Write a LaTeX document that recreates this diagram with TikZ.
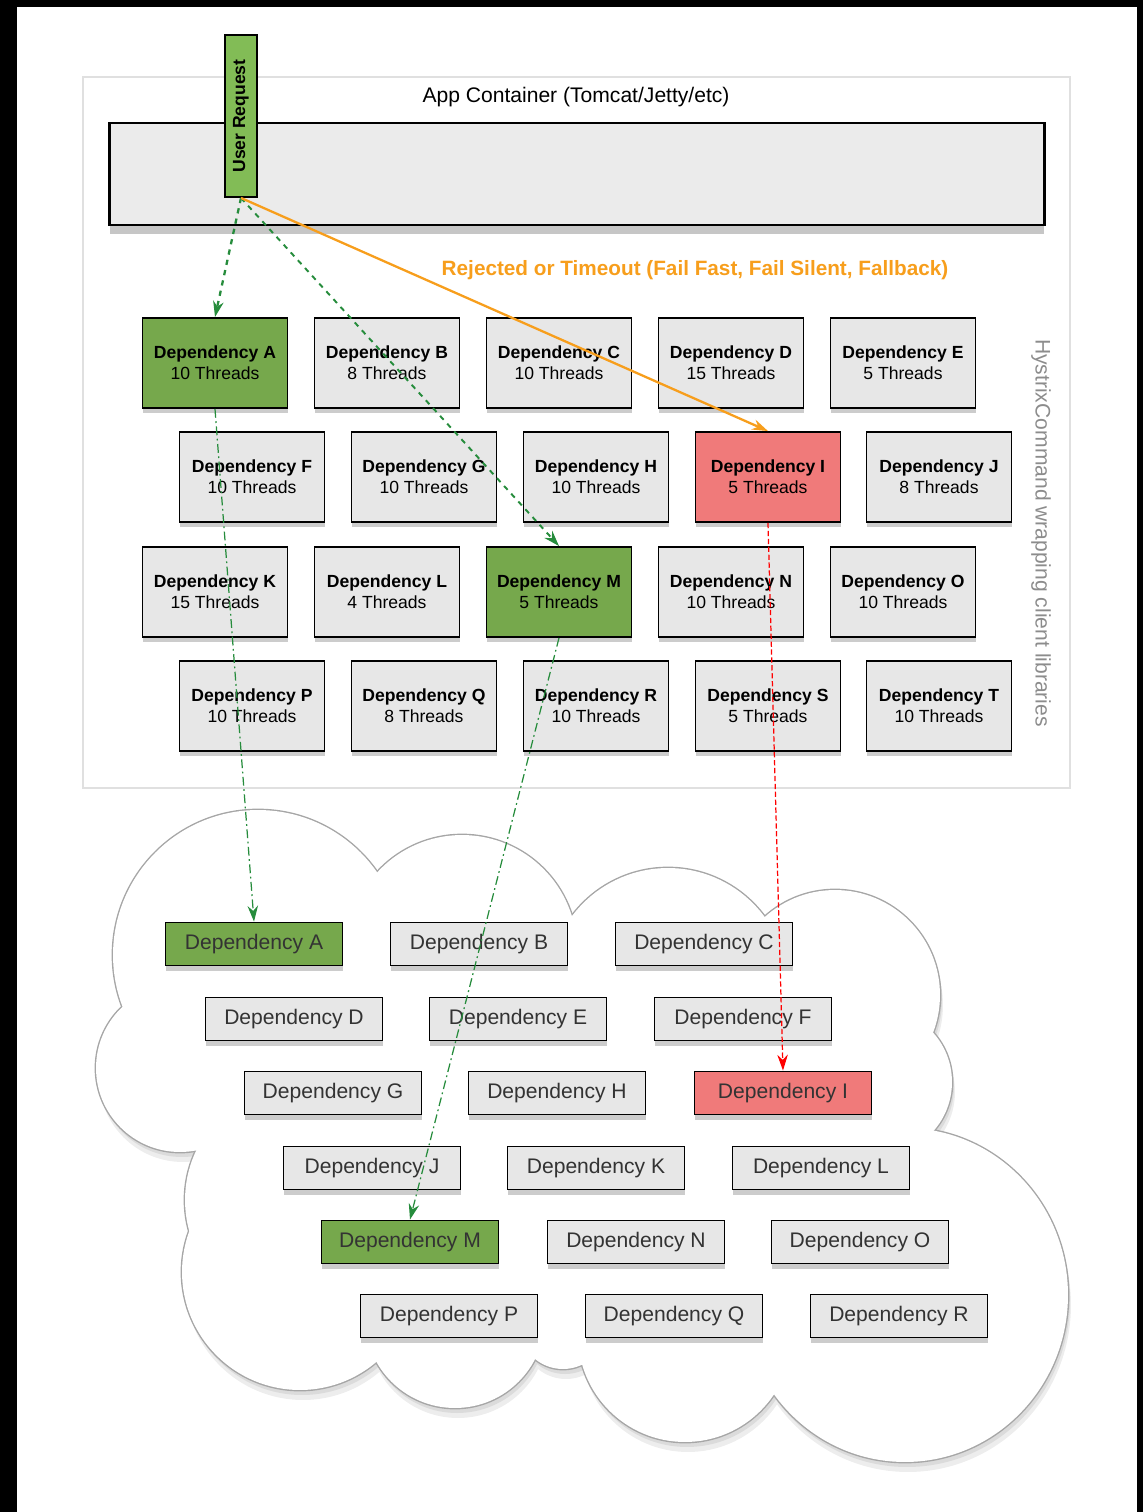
\documentclass[tikz,border=0pt]{standalone}
\usepackage{fontspec}
\setmainfont{Liberation Sans}
\usepackage{tikz}
\usetikzlibrary{arrows.meta, shadows}

\definecolor{boxgray}{RGB}{231,231,231}
\definecolor{okgreen}{RGB}{118,168,76}
\definecolor{reqgreen}{RGB}{130,188,86}
\definecolor{failred}{RGB}{240,122,122}
\definecolor{linegreen}{RGB}{38,140,60}
\definecolor{timeout}{RGB}{247,158,28}

% lobes of the network cloud: centre x / centre y / x radius / y radius (cm)
\newcommand{\cloudlobes}[1]{%
    \foreach \cx/\cy/\rx/\ry in {258/955/2.9/2.9, 462/950/2.3/2.3, 668/988/2.4/2.4, 835/995/2.1/2.1,
        878/1082/1.48/1.48, 905/1295/3.26/3.34, 685/1335/2.14/2.14, 563/1325/0.88/0.88,
        455/1318/1.8/1.8, 300/1272/2.36/2.36, 300/1200/2.3/2.3, 180/1068/1.68/1.68}
        {#1 (\cx,\cy) ellipse[x radius=\rx cm, y radius=\ry cm];}}

\begin{document}
\begin{tikzpicture}[x=0.02cm, y=-0.02cm, >={Stealth[length=9pt, width=6pt]},
    pool/.style={draw, line width=1.1pt, fill=boxgray, minimum width=2.9cm, minimum height=1.8cm, align=center,
        font=\fontsize{10}{12}\selectfont, drop shadow={shadow xshift=0.5pt, shadow yshift=-3pt, opacity=0.4}},
    lib/.style={draw, line width=1.1pt, fill=boxgray, minimum width=3.54cm, minimum height=0.86cm, text=black!80,
        font=\fontsize{12}{14}\selectfont, drop shadow={shadow xshift=0.5pt, shadow yshift=-3pt, opacity=0.4}},
    ok/.style={fill=okgreen},
    bad/.style={fill=failred},
    pass/.style={->, linegreen, line width=0.7pt, dash pattern=on 5pt off 2pt on 1pt off 2pt}]

    \useasboundingbox (0,0) rectangle (1143,1512);
    % black edges of the screenshot
    \fill[black] (0,0) rectangle (1143,7);
    \fill[black] (0,0) rectangle (17,1512);
    \fill[black] (1137,0) rectangle (1143,1512);

    % app container
    \node[draw=black!12, line width=0.8pt, minimum width=19.74cm, minimum height=14.22cm] (frame) at (576.5,432.5) {};
    \node[font=\fontsize{12}{14}\selectfont] (apptitle) at (576,97) {App Container (Tomcat/Jetty/etc)};
    \node[draw, line width=1.3pt, fill=black!8, minimum width=18.7cm, minimum height=2.04cm,
        drop shadow={shadow xshift=0pt, shadow yshift=-5pt, opacity=0.45}] (app) at (577,174) {};
    \node[rotate=-90, text=black!45, font=\fontsize{12}{14}\selectfont] (wrap) at (1041,533) {HystrixCommand wrapping client libraries};
    \node[text=timeout, font=\bfseries\fontsize{11.8}{14}\selectfont] (reject) at (695,270) {Rejected or Timeout (Fail Fast, Fail Silent, Fallback)};

    % network cloud
    \cloudlobes{\fill[black!7, shift={(3,10)}]}
    \cloudlobes{\fill[black!14, shift={(2,5)}]}
    \cloudlobes{\draw[black!35, line width=1.6pt]}
    \cloudlobes{\fill[white]}
    \fill[white] (210,960) -- (900,960) -- (900,1300) -- (230,1300) -- cycle;

    % thread pools
    \node[pool, ok] (pA) at (215,363) {\textbf{Dependency A}\\10 Threads};
    \node[pool] (pB) at (387,363) {\textbf{Dependency B}\\8 Threads};
    \node[pool] (pC) at (559,363) {\textbf{Dependency C}\\10 Threads};
    \node[pool] (pD) at (731,363) {\textbf{Dependency D}\\15 Threads};
    \node[pool] (pE) at (903,363) {\textbf{Dependency E}\\5 Threads};

    \node[pool] (pF) at (252,477) {\textbf{Dependency F}\\10 Threads};
    \node[pool] (pG) at (424,477) {\textbf{Dependency G}\\10 Threads};
    \node[pool] (pH) at (596,477) {\textbf{Dependency H}\\10 Threads};
    \node[pool, bad] (pI) at (768,477) {\textbf{Dependency I}\\5 Threads};
    \node[pool] (pJ) at (939,477) {\textbf{Dependency J}\\8 Threads};

    \node[pool] (pK) at (215,592) {\textbf{Dependency K}\\15 Threads};
    \node[pool] (pL) at (387,592) {\textbf{Dependency L}\\4 Threads};
    \node[pool, ok] (pM) at (559,592) {\textbf{Dependency M}\\5 Threads};
    \node[pool] (pN) at (731,592) {\textbf{Dependency N}\\10 Threads};
    \node[pool] (pO) at (903,592) {\textbf{Dependency O}\\10 Threads};

    \node[pool] (pP) at (252,706) {\textbf{Dependency P}\\10 Threads};
    \node[pool] (pQ) at (424,706) {\textbf{Dependency Q}\\8 Threads};
    \node[pool] (pR) at (596,706) {\textbf{Dependency R}\\10 Threads};
    \node[pool] (pS) at (768,706) {\textbf{Dependency S}\\5 Threads};
    \node[pool] (pT) at (939,706) {\textbf{Dependency T}\\10 Threads};

    % remote dependencies
    \node[lib, ok] (cA) at (254,944) {Dependency A};
    \node[lib] (cB) at (479,944) {Dependency B};
    \node[lib] (cC) at (704,944) {Dependency C};
    \node[lib] (cD) at (294,1019) {Dependency D};
    \node[lib] (cE) at (518,1019) {Dependency E};
    \node[lib] (cF) at (743,1019) {Dependency F};
    \node[lib] (cG) at (333,1093) {Dependency G};
    \node[lib] (cH) at (557,1093) {Dependency H};
    \node[lib, bad] (cI) at (783,1093) {Dependency I};
    \node[lib] (cJ) at (372,1168) {Dependency J};
    \node[lib] (cK) at (596,1168) {Dependency K};
    \node[lib] (cL) at (821,1168) {Dependency L};
    \node[lib, ok] (cM) at (410,1242) {Dependency M};
    \node[lib] (cN) at (636,1242) {Dependency N};
    \node[lib] (cO) at (860,1242) {Dependency O};
    \node[lib] (cP) at (449,1316) {Dependency P};
    \node[lib] (cQ) at (674,1316) {Dependency Q};
    \node[lib] (cR) at (899,1316) {Dependency R};

    \node[draw, line width=1.1pt, fill=reqgreen, minimum width=0.64cm, minimum height=3.24cm,
        font=\bfseries\fontsize{10}{12}\selectfont] (user) at (241,116) {\rotatebox{90}{User Request}};

    \draw[->, linegreen, line width=1.3pt, dashed] (user.south) -- (pA.north);
    \draw[->, linegreen, line width=1.1pt, dashed] (user.south) -- (pM.north);
    \draw[->, timeout, line width=1.3pt] (user.south) -- (pI.north);

    \draw[pass] (pA.south) -- (cA.north);
    \draw[pass] (pM.south) -- (cM.north);
    \draw[->, red, line width=0.7pt, dash pattern=on 3pt off 1.5pt] (pI.south) -- (cI.north);
\end{tikzpicture}
\end{document}
